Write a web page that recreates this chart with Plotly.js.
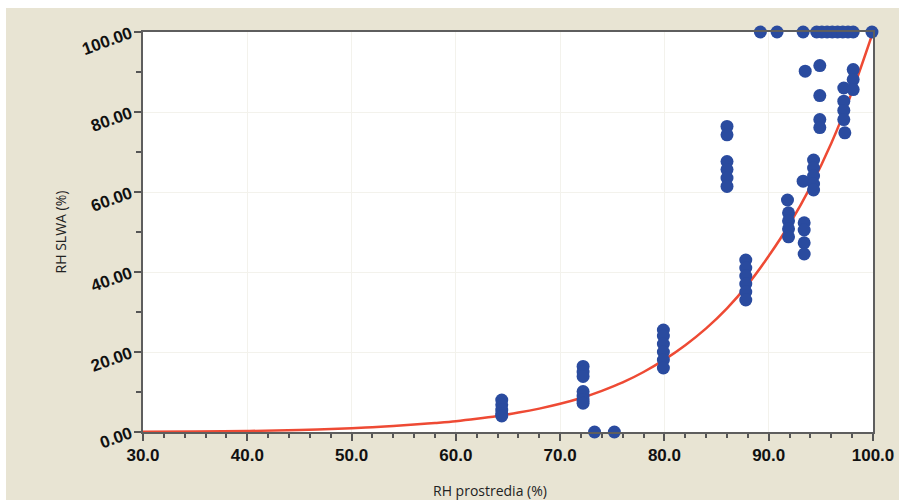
<!DOCTYPE html>
<html>
<head>
<meta charset="utf-8">
<script src="https://cdn.plot.ly/plotly-3.0.1.min.js"></script>
<style>
html,body{margin:0;padding:0;background:#ffffff;width:899px;height:502px;overflow:hidden;}
#chart{position:absolute;left:6px;top:8px;width:893px;height:492px;}
</style>
</head>
<body>
<div id="chart"></div>
<script>
// Measured points: RH prostredia (%) vs RH SLWA (%)
const pointsX = [
  64.4,64.4,64.4,64.4,64.4,
  72.2,72.2,72.2,72.2,72.2,72.2,72.2,
  73.3,75.2,
  79.9,79.9,79.9,79.9,79.9,79.9,
  86.0,86.0,86.0,86.0,86.0,86.0,
  87.8,87.8,87.8,87.8,87.8,87.8,
  91.8,91.9,91.9,91.9,91.9,
  93.4,93.4,93.4,93.4,
  93.3,
  94.3,94.3,94.3,94.3,94.3,
  93.5,94.9,94.9,94.9,94.9,
  97.2,97.2,97.2,97.2,97.3,
  98.1,98.1,98.1,
  89.2,90.8,93.3,94.6,95.1,95.6,96.1,96.6,97.1,97.6,98.1,99.9
];
const pointsY = [
  8.0,6.8,5.5,4.6,4.0,
  16.4,15.0,13.9,10.1,9.0,8.0,7.2,
  0,0,
  25.5,24.0,22.0,20.0,18.0,16.0,
  76.4,74.3,67.6,65.6,63.5,61.4,
  43.0,41.0,39.0,37.0,35.0,33.0,
  58.0,54.8,52.8,50.8,48.8,
  52.3,50.5,47.3,44.5,
  62.7,
  68.0,66.0,64.0,62.0,60.5,
  90.2,91.6,84.1,78.1,76.1,
  86.0,82.7,80.4,78.1,74.8,
  90.6,88.1,85.6,
  100,100,100,100,100,100,100,100,100,100,100,100
];
// Fitted curve
const curveX = [30,35,40,45,50,52,54,56,58,60,62,64,66,68,70,72,74,76,78,80,82,84,86,88,90,92,94,96,98,100];
const curveY = [0.05,0.1,0.25,0.5,0.95,1.2,1.5,1.85,2.25,2.7,3.3,4.0,4.85,5.85,7.05,8.5,10.3,12.4,15.0,18.1,21.7,25.9,30.9,36.9,44.0,52.0,61.3,72.2,85.1,100];

const xTicks = [30,40,50,60,70,80,90,100];
const yTicks = [0,20,40,60,80,100];
const xTitle = 'RH prostredia (%)';
const yTitle = 'RH SLWA (%)';

const traces = [
  {
    x: curveX, y: curveY, type: 'scatter', mode: 'lines',
    line: {color: '#ee4a34', width: 2.5, shape: 'spline', smoothing: 1},
    cliponaxis: false, hoverinfo: 'skip', showlegend: false
  },
  {
    x: pointsX, y: pointsY, type: 'scatter', mode: 'markers',
    marker: {color: '#2a4b9f', size: 13, line: {width: 0}},
    cliponaxis: false, showlegend: false
  }
];

const tickFont = {family: 'Liberation Sans, Arial, sans-serif', size: 17, color: '#111111', weight: 'bold'};
const titleFont = {family: 'Open Sans, sans-serif', size: 14, color: '#222222'};
const layout = {
  width: 893, height: 492,
  paper_bgcolor: '#e8e4d3',
  plot_bgcolor: '#ffffff',
  margin: {l: 137, r: 26, t: 24, b: 68},
  showlegend: false,
  xaxis: {
    range: [30, 100], tickvals: xTicks, ticktext: xTicks.map(v => v.toFixed(1)),
    showline: true, linecolor: '#5e5e5e', linewidth: 2, mirror: true,
    ticks: 'outside', ticklen: 7, tickwidth: 2, tickcolor: '#555555',
    minor: {dtick: 2, ticks: 'outside', ticklen: 4, tickwidth: 2, tickcolor: '#555555', showgrid: false},
    showgrid: true, gridcolor: '#f3f2ec', gridwidth: 1,
    zeroline: false, tickfont: tickFont
  },
  yaxis: {
    range: [0, 100], tickvals: yTicks, ticktext: yTicks.map(v => v.toFixed(2)),
    showline: true, linecolor: '#5e5e5e', linewidth: 2, mirror: true,
    ticks: 'outside', ticklen: 7, tickwidth: 2, tickcolor: '#555555',
    minor: {dtick: 10, ticks: 'outside', ticklen: 5, tickwidth: 2, tickcolor: '#555555', showgrid: false},
    showgrid: true, gridcolor: '#f3f2ec', gridwidth: 1,
    zeroline: false, tickfont: tickFont, tickangle: -20,
    title: {text: yTitle, font: titleFont, standoff: 10}
  },
  annotations: [
    {text: xTitle, xref: 'paper', yref: 'paper', x: 0.475, y: -0.145,
     xanchor: 'center', yanchor: 'middle', showarrow: false, font: titleFont}
  ]
};

Plotly.newPlot('chart', traces, layout, {displayModeBar: false, staticPlot: true});
</script>
</body>
</html>
